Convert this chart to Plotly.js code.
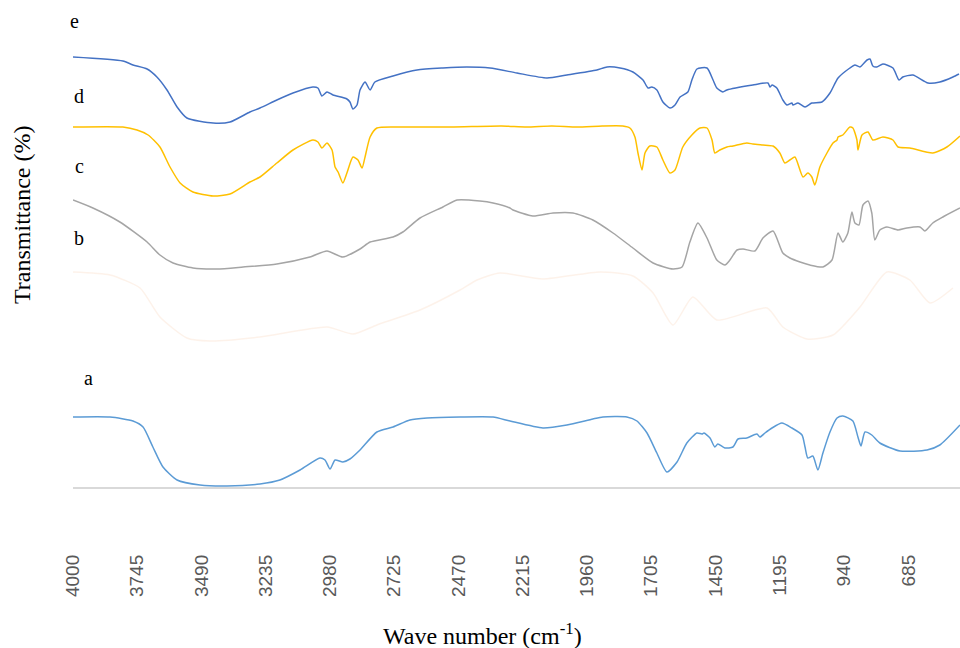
<!DOCTYPE html>
<html>
<head>
<meta charset="utf-8">
<script src="https://cdn.plot.ly/plotly-3.0.1.min.js"></script>
<style>html,body{margin:0;padding:0;background:#fff;}#chart{width:960px;height:648px;}</style>
</head>
<body>
<div id="chart"></div>
<script>
// Tick labels (wave number, cm-1)
const tickValues = [4000, 3745, 3490, 3235, 2980, 2725, 2470, 2215, 1960, 1705, 1450, 1195, 940, 685];

// Curve e (blue)
const eX = [4000,3802,3762,3706,3667,3627,3587,3548,3444,3377,3298,3258,3191,3127,3048,3028,3012,2992,2968,2913,2901,2889,2873,2861,2841,2821,2802,2730,2635,2532,2437,2345,2238,2119,2040,1921,1881,1829,1778,1738,1718,1703,1683,1659,1631,1611,1591,1560,1544,1524,1484,1460,1445,1421,1405,1302,1242,1234,1226,1207,1183,1167,1147,1143,1123,1095,1068,1028,996,964,917,897,877,849,837,826,810,786,746,722,707,667,607,560,508,484];
const eY = [431,427,423,419,411,398,381,370,365,366,376,380,388,395,401,400,392,396,393,389,386,379,383,398,406,398,406,412,418,420,421,420,415,410,413,418,421,420,416,408,400,401,398,386,380,383,391,396,408,419,420,408,400,396,398,403,405,401,403,400,388,383,385,383,385,381,385,386,395,410,420,423,421,428,429,422,421,424,420,408,411,413,405,406,411,414];

// Curve d (yellow)
const dX = [4000,3802,3746,3702,3655,3615,3575,3524,3444,3377,3298,3258,3191,3127,3048,3028,3012,2992,2972,2960,2948,2929,2913,2889,2869,2853,2841,2821,2794,2702,2500,2300,2200,2100,2000,1900,1818,1790,1770,1758,1742,1730,1711,1683,1659,1631,1611,1580,1544,1512,1484,1464,1453,1433,1405,1381,1326,1302,1262,1222,1195,1175,1155,1135,1103,1084,1068,1056,1036,1008,984,968,964,945,917,905,889,885,869,845,826,786,746,726,679,588,532,480];
const dY = [361,361,358,353,341,321,305,296,292,294,306,311,325,338,348,346,340,345,338,321,316,305,315,331,328,320,331,351,360,361,361,362,361,362,361,362,362,360,351,335,318,335,342,341,328,315,318,341,353,360,360,348,335,338,341,342,345,344,343,342,335,325,328,331,311,315,311,303,321,335,345,348,351,353,361,360,348,338,353,356,348,351,348,341,340,335,341,352];

// Curve c (grey)
const cX = [4000,3921,3814,3706,3655,3603,3524,3429,3325,3191,3060,2992,2929,2861,2821,2730,2691,2623,2532,2476,2385,2333,2266,2254,2175,2095,2016,1937,1857,1778,1698,1619,1583,1552,1520,1484,1445,1413,1393,1365,1341,1294,1262,1222,1183,1155,1115,1076,1024,988,964,945,925,909,897,881,865,845,830,818,798,770,726,691,639,619,588,548,480];
const cY = [288,280,266,246,233,225,220,219,221,224,231,237,231,239,246,251,256,270,281,288,287,285,280,278,272,275,275,268,255,240,225,219,221,246,265,250,228,223,228,238,239,237,250,257,235,230,226,223,221,228,255,246,255,276,265,263,283,287,275,248,258,261,258,260,261,257,265,271,280];

// Curve b (faint orange)
const bX = [4000,3853,3734,3655,3548,3456,3258,2992,2889,2794,2623,2464,2397,2306,2135,1909,1778,1698,1619,1540,1445,1246,1183,1087,984,877,770,679,599,508];
const bY = [216,213,200,171,150,147,151,161,154,163,178,198,208,215,209,216,212,195,163,191,168,180,161,149,153,181,216,208,185,200];

// Curve a (light blue)
const aX = [4000,3853,3762,3722,3683,3643,3587,3496,3389,3258,3179,3099,3020,3000,2980,2960,2929,2901,2861,2794,2730,2663,2595,2464,2333,2266,2135,2040,1937,1897,1802,1762,1722,1683,1643,1603,1564,1524,1504,1496,1472,1453,1441,1413,1381,1361,1326,1286,1274,1254,1226,1187,1147,1107,1095,1084,1064,1044,1024,996,968,945,905,885,873,857,830,798,718,611,560,480];
const aY = [71,71,67,61,41,21,8,3,2,4,8,18,30,28,19,28,26,29,38,56,61,68,70,71,71,67,60,63,69,71,71,67,55,35,16,26,45,55,54,55,50,41,44,40,41,49,50,54,51,55,60,65,60,53,41,30,32,18,35,56,70,72,67,51,42,56,53,45,37,38,43,63];

const traces = [
  {x: eX, y: eY, color: '#4472C4'},
  {x: dX, y: dY, color: '#FFC000'},
  {x: cX, y: cY, color: '#A5A5A5'},
  {x: bX, y: bY, color: 'rgba(237,125,49,0.1)'},
  {x: aX, y: aY, color: '#5B9BD5'}
].map(s => ({x: s.x, y: s.y, type: 'scatter', mode: 'lines', line: {color: s.color, width: 1.5, shape: 'spline', smoothing: 0.6}, hoverinfo: 'skip', showlegend: false}));

const serif = 'Liberation Serif, Times New Roman, serif';
// plot area: top 40, bottom 550 (510 px)
const letters = [
  {t: 'e', x: 0.002, y: (550 - 21) / 510},
  {t: 'd', x: 0.007, y: (550 - 96) / 510},
  {t: 'c', x: 0.007, y: (550 - 166) / 510},
  {t: 'b', x: 0.007, y: (550 - 238) / 510},
  {t: 'a', x: 0.017, y: (550 - 378) / 510}
];
const annotations = letters.map(l => ({text: l.t, xref: 'paper', yref: 'paper', x: l.x, y: l.y, showarrow: false, xanchor: 'center', yanchor: 'middle', font: {family: serif, size: 20, color: '#000'}}));
annotations.push({text: 'Transmittance (%)', xref: 'paper', yref: 'paper', x: -0.0575, y: (550 - 215) / 510, textangle: -90, showarrow: false, xanchor: 'center', yanchor: 'middle', font: {family: serif, size: 24, color: '#000'}});
annotations.push({text: 'Wave number (cm<sup>-1</sup>)', xref: 'paper', yref: 'paper', x: 0.462, y: (550 - 634) / 510, showarrow: false, xanchor: 'center', yanchor: 'middle', font: {family: serif, size: 24, color: '#000'}});

const layout = {
  width: 960, height: 648,
  margin: {l: 73, r: 0, t: 40, b: 98, pad: 0},
  paper_bgcolor: '#fff', plot_bgcolor: '#fff',
  showlegend: false,
  xaxis: {
    range: [4000, 480], autorange: false,
    tickmode: 'array', tickvals: tickValues, ticktext: tickValues.map(String),
    tickangle: -90, ticks: '', showgrid: false, zeroline: false, showline: false,
    tickfont: {family: 'Liberation Sans, Arial, sans-serif', size: 19, color: '#595959'}
  },
  yaxis: {
    range: [-62, 448], autorange: false,
    showticklabels: false, ticks: '', showgrid: false,
    zeroline: true, zerolinecolor: '#D9D9D9', zerolinewidth: 2, showline: false
  },
  annotations: annotations
};

Plotly.newPlot('chart', traces, layout, {staticPlot: true, displayModeBar: false});
</script>
</body>
</html>
